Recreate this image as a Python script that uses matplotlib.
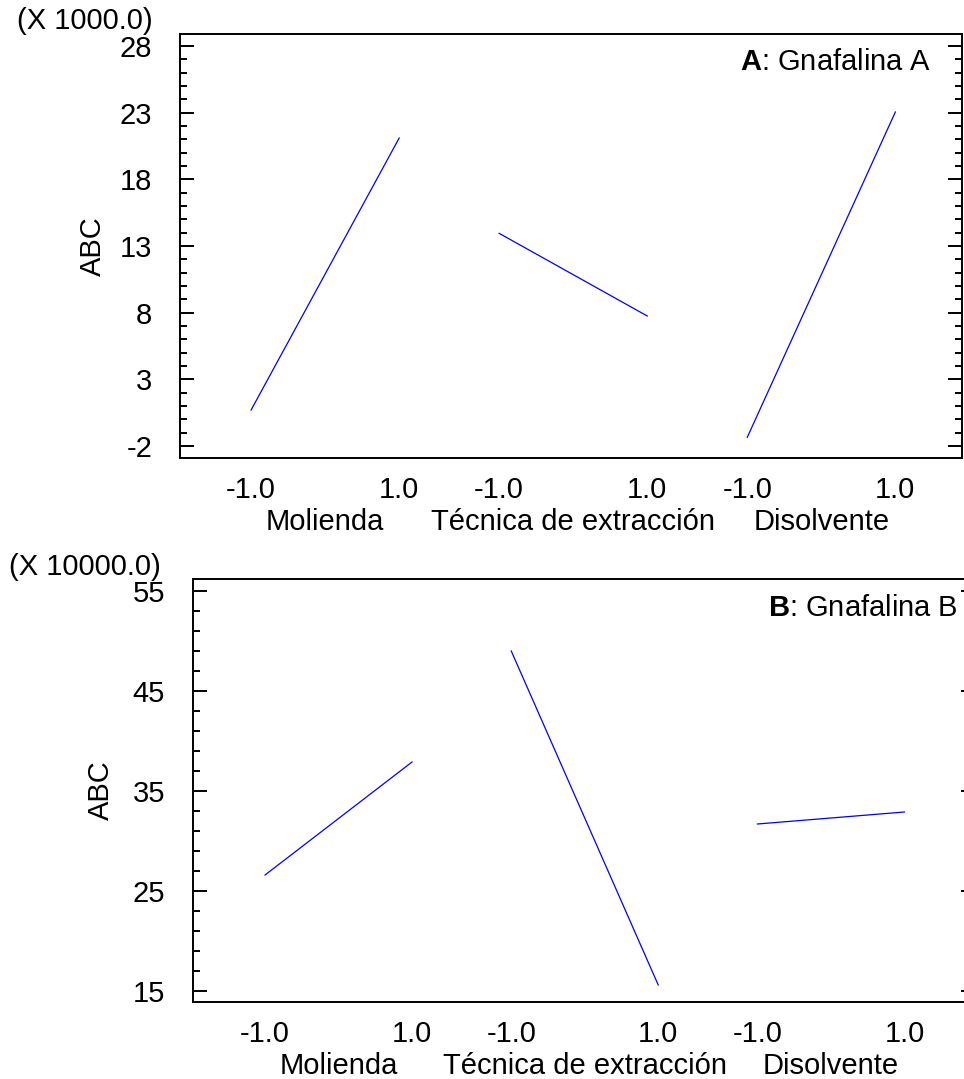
import numpy as np
import matplotlib
matplotlib.use("Agg")
import matplotlib.pyplot as plt

plt.rcParams['font.family'] = ['Liberation Sans', 'DejaVu Sans']
plt.rcParams['mathtext.fontset'] = 'custom'
plt.rcParams['mathtext.bf'] = 'Liberation Sans:bold'
plt.rcParams['mathtext.rm'] = 'Liberation Sans'
plt.rcParams['axes.unicode_minus'] = False

factors = ["Molienda", "Técnica de extracción", "Disolvente"]
levels = [-1.0, 1.0]
level_labels = ["-1.0", "1.0"]

# Panel A: Gnafalina A (X 1000.0)
abc_a = [[0.7, 21.1], [13.95, 7.75], [-1.35, 23.05]]
yticks_a = [-2, 3, 8, 13, 18, 23, 28]
# Panel B: Gnafalina B (X 10000.0)
abc_b = [[26.6, 37.9], [49.0, 15.6], [31.7, 32.9]]
yticks_b = [15, 25, 35, 45, 55]

W, H = 964, 1079
fig = plt.figure(figsize=(W / 100, H / 100), dpi=100)

spacing = 3.35
FS = 21


def panel(rect, values, ylim, majors, minor_step, scale_txt, title_bold,
          title_rest, title_xy, scale_xy, ylabel_x, xlim, name_off):
    l, t, r, b = rect
    ax = fig.add_axes([l / W, 1 - b / H, (r - l) / W, (b - t) / H])
    xt, xl = [], []
    for i, vals in enumerate(values):
        c = i * spacing
        xs = [c + lv for lv in levels]
        ax.plot(xs, vals, color='#0000ff', lw=0.9)
        xt += xs
        xl += level_labels
        ax.annotate(factors[i], xy=(c, 0), xycoords=('data', 'axes fraction'),
                    xytext=(0, -name_off), textcoords='offset points',
                    ha='center', va='center', fontsize=FS)
    ax.set_xlim(*xlim)
    ax.set_ylim(*ylim)
    ax.set_xticks(xt)
    ax.set_xticklabels(xl, fontsize=FS)
    ax.set_yticks(majors)
    ax.set_yticks(np.arange(majors[0], majors[-1] + 0.01, minor_step),
                  minor=True)
    ax.tick_params(axis='x', length=0, pad=13)
    ax.tick_params(axis='y', which='major', direction='in', length=10,
                   width=1.4, left=True, right=True, labelsize=FS, pad=20)
    ax.tick_params(axis='y', which='minor', direction='in', length=5,
                   width=1.4, left=True, right=True)
    for s in ax.spines.values():
        s.set_linewidth(1.4)
    ax.set_ylabel("ABC", fontsize=FS)
    ax.yaxis.set_label_coords((ylabel_x - l) / (r - l), 0.5)
    fig.text(scale_xy[0] / W, 1 - scale_xy[1] / H, scale_txt, fontsize=FS,
             ha='right', va='center')
    fig.text(title_xy[0] / W, 1 - title_xy[1] / H,
             r"$\mathbf{" + title_bold + "}$" + title_rest, fontsize=FS,
             ha='right', va='center')
    return ax


panel((180, 34, 962, 458), abc_a, (-2.9, 28.9), yticks_a, 1, "(X 1000.0)",
      "A", ": Gnafalina A", (931, 62), (153, 21), 107, (-1.96, 8.6), 46)
panel((193, 579, 975, 1002), abc_b, (13.9, 56.2), yticks_b, 2, "(X 10000.0)",
      "B", ": Gnafalina B", (958, 608), (161, 567), 115, (-1.98, 8.66), 46)

fig.savefig("out.png", dpi=100)
